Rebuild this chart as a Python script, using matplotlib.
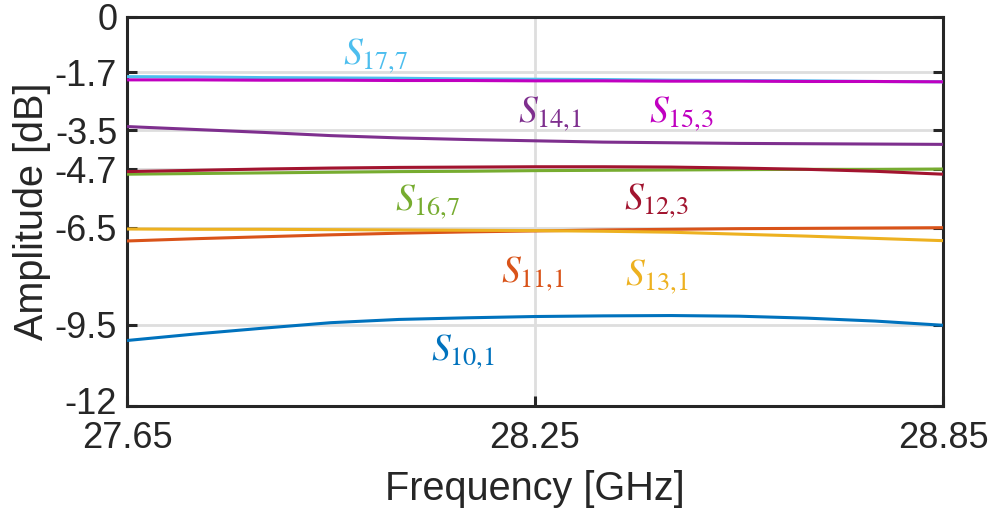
import matplotlib
matplotlib.use("Agg")
import matplotlib.pyplot as plt
from matplotlib.transforms import ScaledTranslation

plt.rcParams['font.family'] = ['Liberation Sans', 'DejaVu Sans']
plt.rcParams['mathtext.fontset'] = 'stix'

freq = [27.65, 27.75, 27.85, 27.95, 28.05, 28.15, 28.25,
        28.35, 28.45, 28.55, 28.65, 28.75, 28.85]

s10_1 = [-9.98, -9.78, -9.60, -9.43, -9.33, -9.28, -9.24,
         -9.22, -9.21, -9.23, -9.29, -9.38, -9.51]
s11_1 = [-6.91, -6.84, -6.78, -6.72, -6.67, -6.63, -6.60,
         -6.57, -6.55, -6.53, -6.52, -6.51, -6.50]
s13_1 = [-6.54, -6.55, -6.55, -6.56, -6.57, -6.58, -6.59,
         -6.61, -6.64, -6.70, -6.76, -6.83, -6.90]
s12_3 = [-4.77, -4.73, -4.69, -4.66, -4.64, -4.63, -4.62,
         -4.62, -4.63, -4.66, -4.70, -4.76, -4.85]
s16_7 = [-4.85, -4.83, -4.81, -4.79, -4.77, -4.76, -4.74,
         -4.73, -4.72, -4.71, -4.70, -4.70, -4.69]
s14_1 = [-3.38, -3.47, -3.56, -3.66, -3.73, -3.78, -3.82,
         -3.86, -3.88, -3.90, -3.91, -3.92, -3.93]
s15_3 = [-1.94, -1.94, -1.95, -1.95, -1.96, -1.96, -1.97,
         -1.97, -1.98, -1.98, -1.99, -1.99, -2.00]
s17_7 = [-1.84, -1.85, -1.87, -1.88, -1.89, -1.91, -1.92,
         -1.93, -1.95, -1.96, -1.97, -1.99, -2.00]

xticks = [27.65, 28.25, 28.85]
yticks = [-12, -9.5, -6.5, -4.7, -3.5, -1.7, 0]
ytick_labels = ['-12', '-9.5', '-6.5', '-4.7', '-3.5', '-1.7', '0']

series = [
    (s10_1, '#0072BD', r'$S_{10{,}1}$', (28.144, -10.33)),
    (s11_1, '#D95319', r'$S_{11{,}1}$', (28.247, -7.93)),
    (s13_1, '#EDB120', r'$S_{13{,}1}$', (28.429, -8.02)),
    (s16_7, '#77AC30', r'$S_{16{,}7}$', (28.092, -5.71)),
    (s12_3, '#A2142F', r'$S_{12{,}3}$', (28.429, -5.68)),
    (s14_1, '#7E2F8E', r'$S_{14{,}1}$', (28.272, -2.99)),
    (s17_7, '#4DBEEE', r'$S_{17{,}7}$', (28.015, -1.20)),
    (s15_3, '#C000C0', r'$S_{15{,}3}$', (28.465, -2.99)),
]

fig = plt.figure(figsize=(9.95, 5.13), dpi=100)
ax = fig.add_axes([0.1276, 0.2086, 0.8201, 0.7583])

for vals, color, label, (lx, ly) in series:
    ax.plot(freq, vals, color=color, lw=2.2, zorder=3, solid_capstyle='butt')
    ax.text(lx, ly, label, color=color, fontsize=27, ha='center', va='center', zorder=4)

ax.set_xlim(27.65, 28.85)
ax.set_ylim(-12, 0)
ax.set_xticks(xticks)
ax.set_xticklabels([f'{t:.2f}' for t in xticks])
ax.set_yticks(yticks)
ax.set_yticklabels(ytick_labels)
ax.grid(True, color='#DEDEDE', lw=2.0, zorder=0)
ax.set_axisbelow(True)

for sp in ax.spines.values():
    sp.set_linewidth(2.2)
    sp.set_color('#262626')
ax.tick_params(direction='in', length=7, width=2.2, colors='#262626',
               labelsize=26, top=False, right=True)
ax.tick_params(axis='x', pad=11)
ax.tick_params(axis='y', pad=7)
for lbl in ax.get_xticklabels() + ax.get_yticklabels():
    lbl.set_color('#262626')

# lift the bottom y label slightly so it clears the first x label
bottom_lbl = ax.get_yticklabels()[0]
bottom_lbl.set_transform(bottom_lbl.get_transform() +
                         ScaledTranslation(0, 4 / 72, fig.dpi_scale_trans))

ax.set_xlabel('Frequency [GHz]', fontsize=28.5, color='#262626', labelpad=10)
ax.set_ylabel('Amplitude [dB]', fontsize=28.5, color='#262626', labelpad=3)

fig.savefig('out.png', dpi=100)
